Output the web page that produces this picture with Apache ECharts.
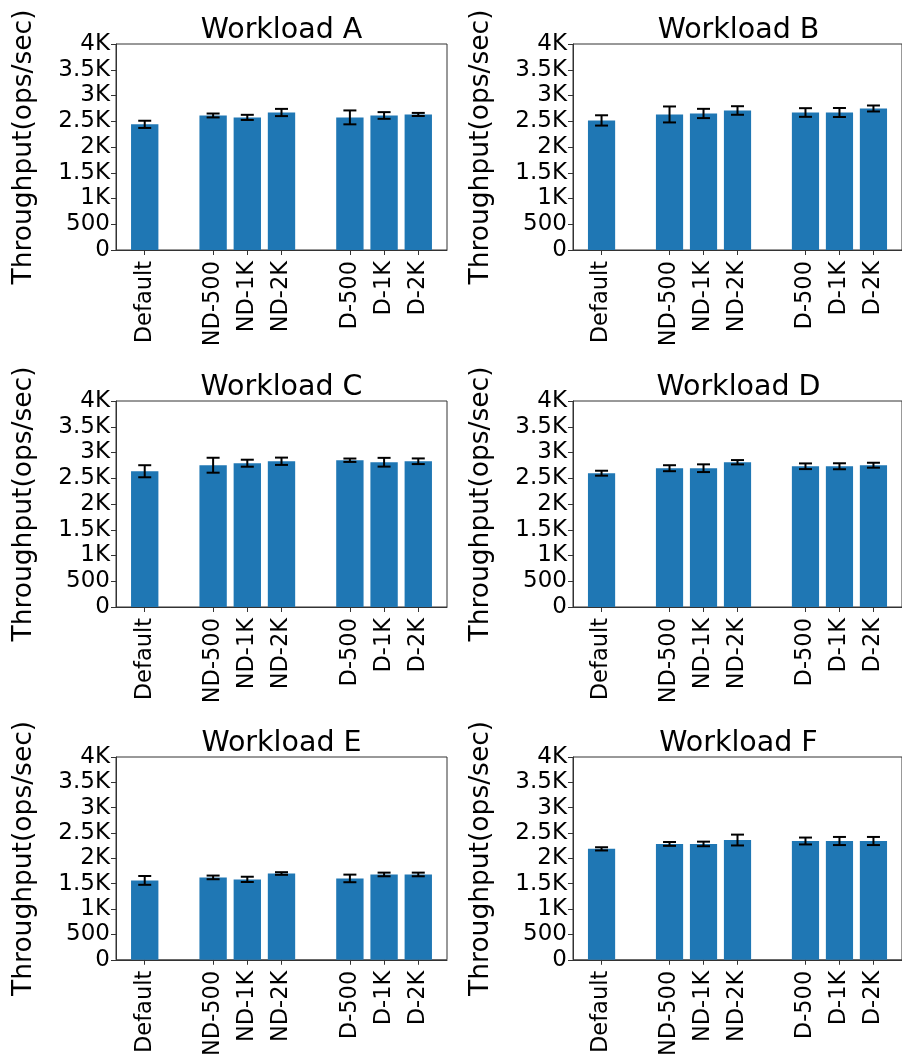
<!DOCTYPE html>
<html>
<head>
<meta charset="utf-8">
<script src="https://cdn.jsdelivr.net/npm/echarts@6/dist/echarts.min.js"></script>
<style>
  html, body { margin: 0; padding: 0; background: #ffffff; }
  #chart { width: 902px; height: 1059px; }
</style>
</head>
<body>
<div id="chart"></div>
<script>
// ---- data ----
const categories = ['Default', 'ND-500', 'ND-1K', 'ND-2K', 'D-500', 'D-1K', 'D-2K'];
const xPositions = [0, 2, 3, 4, 6, 7, 8];
const yTickLabels = ['0', '500', '1K', '1.5K', '2K', '2.5K', '3K', '3.5K', '4K'];
const titles = ['Workload A', 'Workload B', 'Workload C', 'Workload D', 'Workload E', 'Workload F'];

const meanA = [2440, 2612, 2575, 2670, 2575, 2612, 2632];
const errA  = [70, 38, 50, 70, 135, 65, 30];
const meanB = [2516, 2632, 2651, 2709, 2670, 2670, 2748];
const errB  = [100, 155, 90, 83, 84, 87, 58];
const meanC = [2636, 2753, 2792, 2830, 2850, 2811, 2830];
const errC  = [117, 145, 68, 71, 33, 85, 55];
const meanD = [2598, 2695, 2695, 2811, 2733, 2733, 2753];
const errD  = [48, 58, 75, 42, 55, 58, 48];
const meanE = [1566, 1625, 1586, 1702, 1605, 1683, 1683];
const errE  = [87, 36, 52, 26, 75, 36, 36];
const meanF = [2188, 2285, 2285, 2362, 2343, 2343, 2343];
const errF  = [32, 38, 45, 107, 68, 80, 80];

const means = [meanA, meanB, meanC, meanD, meanE, meanF];
const errs  = [errA, errB, errC, errD, errE, errF];

// ---- layout ----
const FONT = 'DejaVu Sans';
const gridLefts = [116, 573];
const gridTops = [44, 401, 757];
const gridW = 331, gridH = 206;
const BAR_COLOR = '#1f77b4';
const AX_COLOR = '#333333';

const chart = echarts.init(document.getElementById('chart'), null, { renderer: 'canvas' });

const grids = [], xAxes = [], yAxes = [], series = [], titleList = [];
for (let i = 0; i < 6; i++) {
  const col = i % 2, row = Math.floor(i / 2);
  const left = gridLefts[col], top = gridTops[row];
  grids.push({
    left: left, top: top, width: gridW, height: gridH,
    show: true, borderColor: AX_COLOR, borderWidth: 1, backgroundColor: 'transparent',
    containLabel: false
  });
  xAxes.push({
    type: 'value', gridIndex: i, min: -0.84, max: 8.84,
    axisLine: { show: true, onZero: false, lineStyle: { color: AX_COLOR, width: 1 } },
    splitLine: { show: false },
    axisTick: { show: true, length: 5, customValues: xPositions, lineStyle: { color: AX_COLOR, width: 1 } },
    axisLabel: {
      show: true, rotate: 90, margin: 11, customValues: xPositions,
      fontFamily: FONT, fontSize: 22.5, color: '#000',
      formatter: function (v) {
        const idx = xPositions.indexOf(Math.round(v));
        return idx >= 0 ? categories[idx] : '';
      }
    }
  });
  yAxes.push({
    type: 'value', gridIndex: i, min: 0, max: 4000, interval: 500,
    name: 'Throughput(ops/sec)', nameLocation: 'middle', nameGap: 78,
    nameTextStyle: { fontFamily: FONT, fontSize: 26.5, color: '#000' },
    axisLine: { show: true, onZero: false, lineStyle: { color: AX_COLOR, width: 1 } },
    splitLine: { show: false },
    axisTick: { show: true, length: 5, lineStyle: { color: AX_COLOR, width: 1 } },
    axisLabel: {
      show: true, margin: 6, fontFamily: FONT, fontSize: 23, color: '#000',
      formatter: function (v) { return yTickLabels[Math.round(v / 500)]; }
    }
  });
  titleList.push({
    text: titles[i], left: left + gridW / 2 - 5, top: top - 33, textAlign: 'center',
    textStyle: { fontFamily: FONT, fontSize: 28.5, fontWeight: 'normal', color: '#000' }
  });
  const data = xPositions.map((x, k) => [x, means[i][k], errs[i][k]]);
  series.push({
    type: 'custom', xAxisIndex: i, yAxisIndex: i, data: data,
    clip: false,
    renderItem: function (params, api) {
      const x = api.value(0), y = api.value(1), e = api.value(2);
      const tl = api.coord([x - 0.4, y]);
      const br = api.coord([x + 0.4, 0]);
      const c = api.coord([x, y]);
      const hi = api.coord([x, y + e]);
      const lo = api.coord([x, y - e]);
      const cap = 6.5;
      const ls = { stroke: '#000', lineWidth: 2 };
      return {
        type: 'group',
        children: [
          { type: 'rect', shape: { x: tl[0], y: tl[1], width: br[0] - tl[0], height: br[1] - tl[1] }, style: { fill: BAR_COLOR } },
          { type: 'line', shape: { x1: c[0], y1: hi[1], x2: c[0], y2: lo[1] }, style: ls },
          { type: 'line', shape: { x1: c[0] - cap, y1: hi[1], x2: c[0] + cap, y2: hi[1] }, style: ls },
          { type: 'line', shape: { x1: c[0] - cap, y1: lo[1], x2: c[0] + cap, y2: lo[1] }, style: ls }
        ]
      };
    }
  });
}

chart.setOption({
  backgroundColor: '#ffffff',
  animation: false,
  title: titleList,
  grid: grids,
  xAxis: xAxes,
  yAxis: yAxes,
  series: series
});
</script>
</body>
</html>
